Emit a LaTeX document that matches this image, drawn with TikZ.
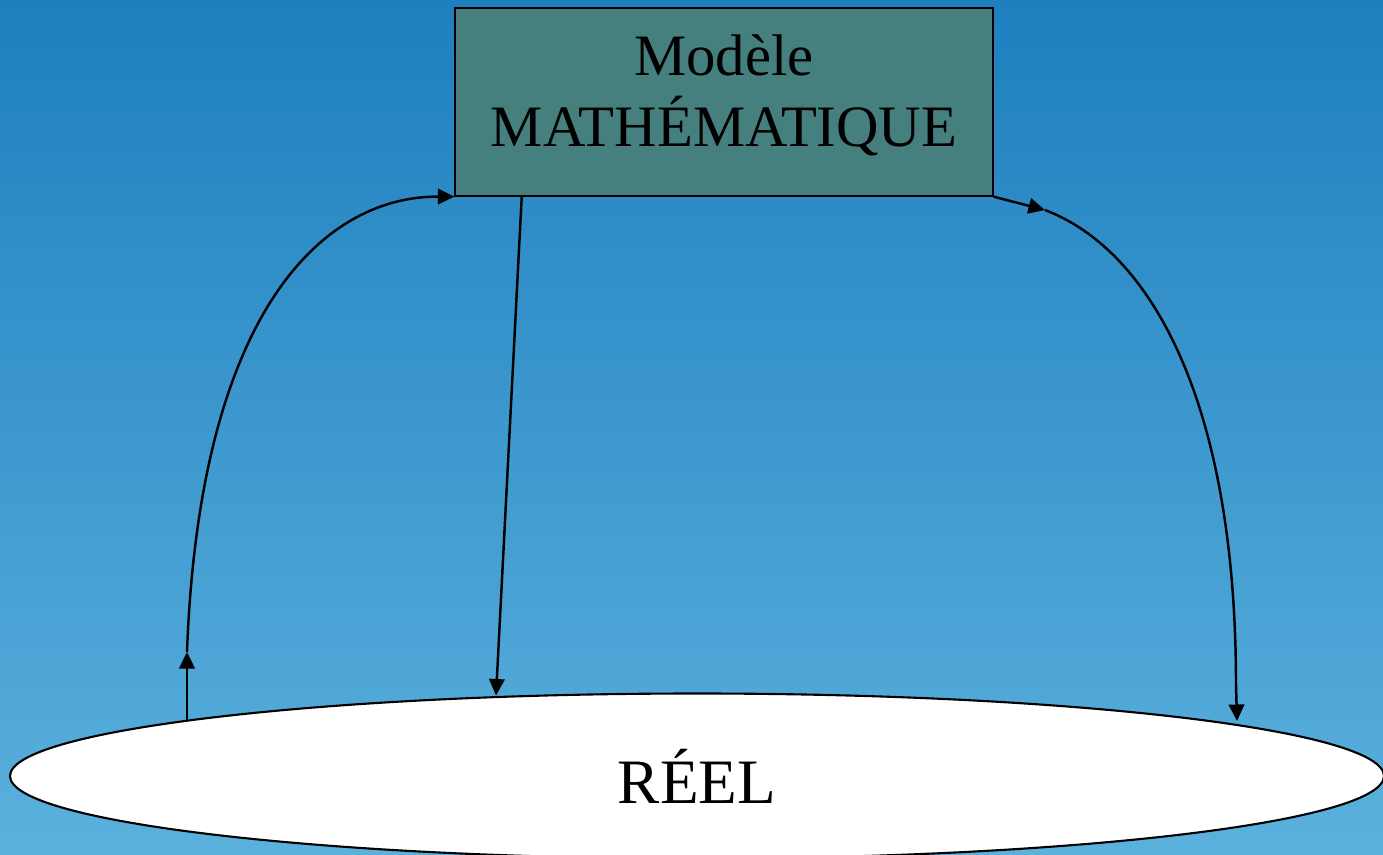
\documentclass[tikz,border=0pt]{standalone}
\usepackage{fontspec}
\setmainfont{Liberation Serif}
\usetikzlibrary{arrows.meta,positioning,calc,shapes.geometric}
\definecolor{skytop}{RGB}{30,127,191}
\definecolor{skybot}{RGB}{91,177,221}
\definecolor{modfill}{RGB}{70,128,126}
\tikzset{
  box/.style={draw, rectangle, line width=0.8pt, fill=modfill, align=center, font=\fontsize{33.4}{40}\selectfont, minimum width=10.76cm, minimum height=3.76cm, inner sep=0pt},
  reelbox/.style={draw, ellipse, line width=1.2pt, fill=white, font=\fontsize{36}{40}\selectfont, minimum width=27.48cm, minimum height=3.3cm, inner sep=0pt},
  arr/.style={-{Triangle[length=3.3mm, width=3.1mm]}, line width=1.4pt},
  ln/.style={line width=1.4pt},
}
\begin{document}
\begin{tikzpicture}
\shade[top color=skytop, bottom color=skybot] (0,0) rectangle (27.66,17.08);
\useasboundingbox (0,0) rectangle (27.66,17.08);
\node[box] (modele) at (14.48,15.04) {Modèle\\MATHÉMATIQUE\rule[-0.46cm]{0pt}{0pt}};
\node[reelbox] (reel) at (13.94,1.56) {RÉEL};
\coordinate (lfoot) at (3.74,2.66);
\coordinate (lup) at (3.74,4.04);
\coordinate (mfoot) at (9.92,3.17);
\coordinate (rmid) at (20.9,12.88);
\coordinate (rdown) at (24.72,3.38);
\coordinate (rfoot) at (24.74,2.66);
\draw[arr] (lfoot) -- (lup);
\draw[arr] (lup) .. controls (4.0,11.08) and (6.6,13.16) .. (modele.south west);
\draw[arr] ($(modele.south west)!0.125!(modele.south east)$) -- (mfoot);
\draw[arr] (modele.south east) -- (rmid);
\draw[ln] (rmid) .. controls (23.0,12.08) and (24.72,9.08) .. (rdown);
\draw[arr] (rdown) -- (rfoot);
\end{tikzpicture}
\end{document}
